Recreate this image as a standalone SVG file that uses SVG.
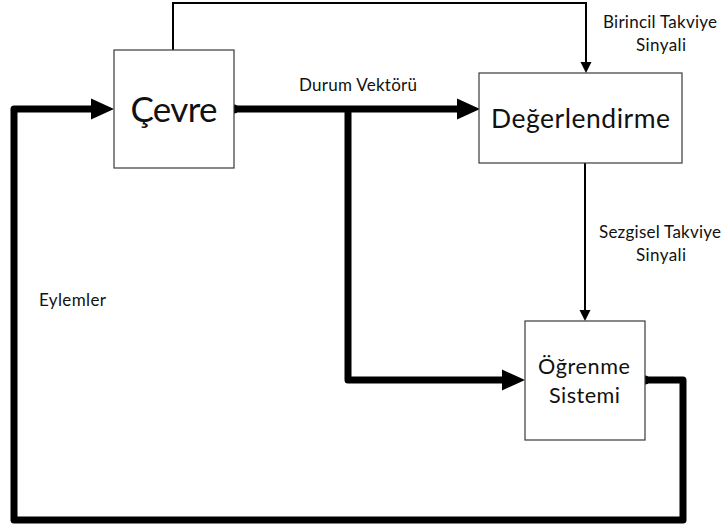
<svg xmlns="http://www.w3.org/2000/svg" width="725" height="528" viewBox="0 0 725 528">
  <style>
    .box { fill: #ffffff; stroke: #3a3a3a; stroke-width: 1.2; }
    .thick { fill: none; stroke: #000000; stroke-width: 7; stroke-linejoin: round; stroke-linecap: butt; }
    .thin { fill: none; stroke: #000000; stroke-width: 2; stroke-linejoin: miter; }
    .head { fill: #000000; stroke: none; }
    .label { font-family: Lato, "Open Sans", "Liberation Sans", sans-serif; font-size: 17px; fill: #111111; }
    .node { font-family: Lato, "Open Sans", "Liberation Sans", sans-serif; fill: #111111; text-anchor: middle; }
  </style>
  <rect width="725" height="528" fill="#ffffff"/>

  <g id="connectors">
    <!-- Çevre -> Değerlendirme (state vector) -->
    <path class="thick" d="M234,109 H459"/>
    <circle cx="234" cy="109" r="4.5" class="head"/>
    <polygon class="head" points="457,98.5 480,109 457,119.5"/>
    <!-- branch to learning system -->
    <path class="thick" d="M348,109 V380 H504"/>
    <polygon class="head" points="502,369.5 525,380 502,390.5"/>
    <!-- actions loop back to Çevre -->
    <path class="thick" d="M645,380 H683 V520 H14 V109 H93"/>
    <circle cx="645" cy="380" r="4.5" class="head"/>
    <polygon class="head" points="91,98.5 114,109 91,119.5"/>
    <!-- primary reinforcement signal -->
    <path class="thin" d="M173,50 V3 H586 V64"/>
    <polygon class="head" points="580.5,62 586,73 591.5,62"/>
    <!-- heuristic reinforcement signal -->
    <path class="thin" d="M585,163 V312"/>
    <polygon class="head" points="579.5,310 585,321 590.5,310"/>
  </g>

  <g id="node-cevre">
    <rect class="box" x="114" y="50" width="120" height="118"/>
    <text class="node" x="174" y="121.5" font-size="35" textLength="87">Çevre</text>
  </g>

  <g id="node-degerlendirme">
    <rect class="box" x="479" y="73" width="203" height="90"/>
    <text class="node" x="580.5" y="128" font-size="26.5" textLength="179">Değerlendirme</text>
  </g>

  <g id="node-ogrenme">
    <rect class="box" x="525" y="321" width="120" height="119"/>
    <text class="node" x="584" y="374" font-size="21.6" textLength="92">Öğrenme</text>
    <text class="node" x="584.5" y="403" font-size="21.6" textLength="71">Sistemi</text>
  </g>

  <g id="labels">
    <text class="label" x="299" y="90.5" textLength="118">Durum Vektörü</text>
    <text class="label" x="660" y="28" text-anchor="middle" textLength="114">Birincil Takviye</text>
    <text class="label" x="661" y="51" text-anchor="middle" textLength="50">Sinyali</text>
    <text class="label" x="660" y="238" text-anchor="middle" textLength="122">Sezgisel Takviye</text>
    <text class="label" x="661" y="261" text-anchor="middle" textLength="50">Sinyali</text>
    <text class="label" x="39" y="306" textLength="67">Eylemler</text>
  </g>
</svg>
